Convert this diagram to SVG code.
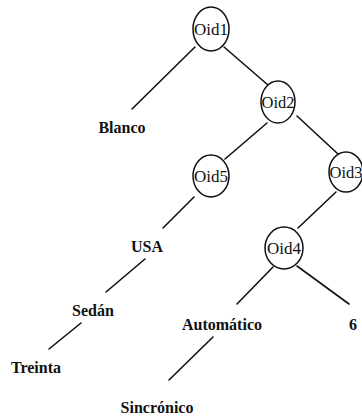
<svg xmlns="http://www.w3.org/2000/svg" width="362" height="416" viewBox="0 0 362 416">
  <style>
    .edge { stroke: #111; stroke-width: 1.6; stroke-linecap: round; fill: none; }
    .oid { fill: #fff; stroke: #111; stroke-width: 1.5; }
    text { font-family: 'Liberation Serif', 'Times New Roman', serif; fill: #111; text-anchor: middle; }
    .oidlabel { font-size: 17px; }
    .leaf { font-size: 16px; font-weight: bold; }
  </style>
  <rect width="362" height="416" fill="#fff"/>

  <!-- connectors -->
  <g id="connectors">
    <line class="edge" x1="195" y1="47" x2="132" y2="109"/>
    <line class="edge" x1="224" y1="47" x2="268" y2="85"/>
    <line class="edge" x1="267" y1="123" x2="225" y2="159"/>
    <line class="edge" x1="297" y1="116" x2="338" y2="154"/>
    <line class="edge" x1="194" y1="197" x2="163" y2="228"/>
    <line class="edge" x1="145" y1="259" x2="106" y2="292"/>
    <line class="edge" x1="81" y1="323" x2="49" y2="349"/>
    <line class="edge" x1="336" y1="192" x2="298" y2="228"/>
    <line class="edge" x1="273" y1="267" x2="237" y2="304"/>
    <line class="edge" x1="297" y1="266" x2="349" y2="304"/>
    <line class="edge" x1="213" y1="337" x2="169" y2="380"/>
  </g>

  <!-- object identifier nodes -->
  <g id="oid1">
    <ellipse class="oid" cx="211" cy="29" rx="18" ry="22"/>
    <text class="oidlabel" x="211" y="35" textLength="34" lengthAdjust="spacingAndGlyphs">Oid1</text>
  </g>
  <g id="oid2">
    <ellipse class="oid" cx="278" cy="102" rx="17" ry="21"/>
    <text class="oidlabel" x="278" y="108" textLength="33" lengthAdjust="spacingAndGlyphs">Oid2</text>
  </g>
  <g id="oid5">
    <ellipse class="oid" cx="211" cy="176" rx="18" ry="21"/>
    <text class="oidlabel" x="211" y="182" textLength="34" lengthAdjust="spacingAndGlyphs">Oid5</text>
  </g>
  <g id="oid3">
    <ellipse class="oid" cx="346" cy="172" rx="17" ry="20"/>
    <text class="oidlabel" x="346" y="178" textLength="33" lengthAdjust="spacingAndGlyphs">Oid3</text>
  </g>
  <g id="oid4">
    <ellipse class="oid" cx="284" cy="248" rx="19" ry="21"/>
    <text class="oidlabel" x="284" y="254" textLength="34" lengthAdjust="spacingAndGlyphs">Oid4</text>
  </g>

  <!-- value leaves -->
  <g id="blanco"><text class="leaf" x="122" y="133">Blanco</text></g>
  <g id="usa"><text class="leaf" x="147" y="252">USA</text></g>
  <g id="sedan"><text class="leaf" x="93" y="316">Sedán</text></g>
  <g id="treinta"><text class="leaf" x="36" y="373">Treinta</text></g>
  <g id="automatico"><text class="leaf" x="222" y="330">Automático</text></g>
  <g id="seis"><text class="leaf" x="353" y="330">6</text></g>
  <g id="sincronico"><text class="leaf" x="157" y="413">Sincrónico</text></g>
</svg>
